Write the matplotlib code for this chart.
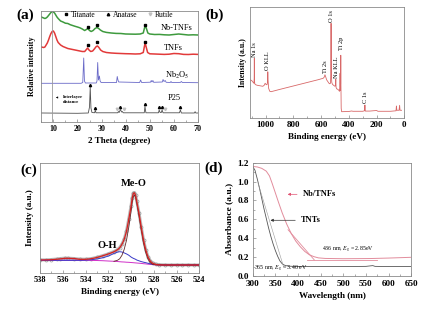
import matplotlib
matplotlib.use('Agg')
import matplotlib.pyplot as plt
from matplotlib.lines import Line2D
from matplotlib.ticker import MultipleLocator, NullLocator

plt.rcParams['font.family'] = ['Liberation Serif', 'DejaVu Serif']
plt.rcParams['mathtext.fontset'] = 'stix'

# ---------------- (a) XRD ----------------
tt_nbtnf = [5, 6, 6.5, 7, 7.5, 8, 8.5, 9, 9.5, 10, 10.5, 11, 11.5, 12, 13, 14, 15, 16, 17, 18, 19, 20,
            21, 22, 23, 23.7, 24.3, 25, 25.7, 26.5, 27.3, 28.1, 28.8, 29.5, 30.5, 32, 34, 36, 38, 40, 42,
            44, 46, 47.3, 47.8, 48.2, 48.6, 49.2, 50, 52, 54, 56, 58, 60, 62, 64, 66, 68, 70]
int_nbtnf = [105, 104, 103.5, 104, 105, 106.5, 108, 109.5, 110.3, 110, 109, 107, 105, 103.5, 101, 100,
             98.8, 98.5, 97.3, 96.5, 95.7, 95, 94.2, 93, 91.5, 92.5, 93.5, 91.5, 90.5, 91.5, 93.5, 94.5,
             93.5, 92, 90.5, 89.6, 89, 88.6, 88.5, 88, 87.9, 87.8, 88, 89, 94, 96, 93.5, 89, 88, 87.5,
             87.6, 87.2, 87, 87.5, 88, 87.5, 87, 87.2, 87]

tt_tnf = [5, 6, 6.5, 7, 7.5, 8, 8.5, 9, 9.5, 10, 10.5, 11, 11.5, 12, 13, 14, 15, 16, 17, 18, 19, 20, 21,
          22, 23, 23.7, 24.2, 24.8, 25.5, 26.3, 27, 27.8, 28.3, 28.9, 29.6, 30.5, 32, 34, 36, 38, 40, 42,
          44, 46, 47.3, 47.8, 48.1, 48.5, 49.1, 50, 52, 54, 56, 58, 60, 62, 64, 66, 68, 70]
int_tnf = [75, 74.5, 75, 77, 79, 82, 85.5, 88.5, 90.5, 91, 89, 85.5, 82, 79.5, 77, 75.5, 74.5, 73.5, 73,
           72.5, 72, 71.5, 71, 70.5, 70.5, 72.5, 74, 72, 70.5, 71, 73, 75.5, 76, 74.5, 72, 70.5, 69.5,
           69, 68.7, 68.5, 68.3, 68.2, 68, 68.2, 69.5, 76, 78.5, 75, 69.5, 68.2, 68, 67.8, 67.6, 67.8,
           68.5, 68.3, 67.6, 67.5, 67.8, 67.6]

tt_nb2o5 = [5, 21.5, 22.2, 22.6, 22.9, 23.3, 27.8, 28.1, 28.4, 28.7, 29.1, 29.4, 29.8, 36.2, 36.5, 36.8,
            37.1, 45.8, 46.2, 46.6, 50.3, 50.6, 50.9, 51.3, 51.6, 55.2, 55.5, 55.9, 56.4, 56.8, 58.5,
            58.8, 59.1, 62.7, 63.1, 63.5, 70]
int_nb2o5 = [38.7, 38.7, 39.5, 64, 41, 39, 39, 41, 59.5, 42, 46, 41, 39.5, 39.5, 45.5, 42, 40, 39.5, 42,
             39.5, 39.8, 41.5, 40, 41.5, 39.7, 40, 42.5, 40.5, 41.5, 39.7, 39.5, 40.5, 39.5, 39.6, 40.5,
             39.5, 39.3]

tt_p25 = [5, 20, 24.5, 25.0, 25.3, 25.6, 26, 27.1, 27.4, 27.7, 36.7, 37.0, 37.3, 37.8, 38.3, 38.6, 39,
          47.7, 48.0, 48.4, 53.6, 53.9, 54.3, 54.8, 55.1, 55.5, 62.3, 62.7, 63.1, 68.5, 68.8, 69.1, 70]
int_p25 = [9, 8.7, 9, 15, 35, 14, 9.5, 9.2, 11.5, 9.2, 9.2, 10.5, 9.5, 12.5, 10, 10.5, 9.2, 9.2, 15.5,
           9.2, 9.2, 12, 9.5, 9.5, 12, 9.2, 9.2, 12, 9, 9, 10.3, 9, 9]

titanate_x = [24.3, 28.3, 48.1]
titanate_y_nb = [94.5, 97, 97]
titanate_y_tnf = [77, 79.5, 79.5]
anatase_x = [25.3, 27.4, 37.8, 48.0, 53.9, 55.1, 62.7]
anatase_y = [36.5, 13.5, 14.5, 18, 14.5, 14.5, 14.5]
rutile_x = [36.2, 39.2, 56.3]
rutile_y = [13, 13, 13]
interlayer_x = 9.6

# ---------------- (b) XPS survey ----------------
be_survey = [1110, 1100, 1090, 1084, 1082, 1081, 1080, 1078, 1070, 1060, 1040, 1020, 1010, 1003, 998,
             990, 986, 984, 982, 978, 970, 960, 900, 800, 700, 620, 585, 578, 572, 568, 560, 548, 540,
             532, 530, 528, 526, 523, 518, 510, 500, 496, 494, 492, 488, 480, 472, 468, 465, 463, 461,
             459, 458, 457, 455, 452, 400, 380, 370, 300, 287, 284, 281, 250, 200, 190, 100, 60, 57, 54,
             38, 34, 31, 20]
cps_survey = [38.3, 37.8, 36, 35, 40, 60, 38, 34.5, 33.5, 33, 32.5, 32, 33, 35, 34, 33.5, 36, 46.5, 38,
              30, 27, 26.6, 28.8, 32.3, 35.8, 38.6, 40, 41, 43.5, 42, 38.5, 36, 34.5, 35, 45, 95, 45, 36,
              34, 33, 32, 33, 39, 31, 29.5, 29, 28, 27, 30, 45, 28, 35, 63, 35, 10, 6.6, 6.8, 7.3, 7, 7,
              7.5, 13.3, 7.2, 7.2, 7.8, 7, 7, 7.5, 12.3, 8, 8, 13, 8, 8]
survey_labels = ['Na 1s', 'O KLL', 'Ti 2s', 'O 1s', 'Na KLL', 'Ti 2p', 'C 1s']
survey_label_x = [1081, 984, 568, 528, 492, 455, 283]
survey_label_y = [61.5, 48, 45, 96.5, 40, 68, 15]

# ---------------- (c) O 1s ----------------
be_o1s = [538, 537.5, 537, 536.5, 536.2, 535.8, 535.5, 535, 534.5, 534, 533.5, 533, 532.5, 532, 531.5,
          531.2, 531, 530.8, 530.6, 530.4, 530.2, 530.0, 529.9, 529.8, 529.7, 529.6, 529.5, 529.3,
          529.1, 528.9, 528.7, 528.5, 528.3, 528.1, 527.8, 527.5, 527, 526.5, 526, 525.5, 525, 524.5, 524]
o1s_raw = [13.5, 13.4, 13.8, 14.3, 14.8, 15.2, 15.1, 14.8, 14.2, 14.1, 14.7, 16, 17.6, 19.5, 21.8, 23.6,
           25.8, 29.2, 34.3, 42.5, 54.5, 67.5, 75.5, 80.3, 80.8, 78.3, 72.4, 60.4, 46.2, 33.2, 23.4,
           16.2, 12.3, 10.2, 9, 8.6, 8.4, 8.3, 8.4, 8.3, 8.4, 8.3, 8.3]
o1s_fit = [13.3, 13.4, 13.6, 14.1, 14.5, 15, 15, 14.8, 14, 14, 14.6, 15.8, 17.5, 19.3, 21.5, 23.5, 25.5,
           29, 34, 42, 54, 67, 75, 80, 80.5, 78, 72, 60, 46, 33, 23, 16, 12, 10, 8.8, 8.4, 8.3, 8.3, 8.3,
           8.3, 8.3, 8.3, 8.3]
o1s_bg = [13, 13, 13, 13, 13, 13, 13, 13, 13, 13, 12.9, 12.8, 12.6, 12.3, 12, 11.8, 11.6, 11.4, 11.3,
          11.1, 11, 10.8, 10.7, 10.6, 10.5, 10.4, 10.3, 10.1, 9.9, 9.6, 9.4, 9.1, 8.9, 8.7, 8.5, 8.4,
          8.3, 8.3, 8.3, 8.3, 8.3, 8.3, 8.3]
o1s_oh = [13, 13, 13, 13, 13, 13, 13, 13, 13.05, 13.2, 13.6, 14.3, 15.5, 17.2, 19.8, 21.2, 21.6, 21.3,
          20.4, 19.4, 18.1, 16.3, 15.6, 15, 14.5, 14, 13.3, 12.5, 11.7, 11.1, 10.6, 10, 9.5, 9.1, 8.7,
          8.5, 8.3, 8.3, 8.3, 8.3, 8.3, 8.3, 8.3]
o1s_meo = [None] * 14 + [12, 13, 14.5, 18, 24, 33, 46, 62, 71, 77, 78, 76, 70, 57, 43, 30, 20.5, 14,
                         10.5, 9, 8.5, 8.4, 8.3, 8.3, 8.3, 8.3, 8.3, 8.3, 8.3]

# ---------------- (d) UV-vis ----------------
wl_tnt = [300, 305, 310, 315, 320, 325, 330, 335, 340, 345, 350, 355, 360, 365, 370, 375, 380, 400,
          450, 500, 550, 565, 570, 600, 650]
abs_tnt = [1.16, 1.12, 1.03, 0.93, 0.82, 0.71, 0.61, 0.51, 0.42, 0.34, 0.27, 0.21, 0.16, 0.13, 0.115,
           0.108, 0.104, 0.10, 0.10, 0.10, 0.102, 0.11, 0.102, 0.10, 0.10]
wl_nb = [300, 310, 320, 330, 337, 343, 350, 357, 365, 375, 385, 395, 405, 415, 425, 435, 445, 460, 500,
         560, 600, 650]
abs_nb = [1.16, 1.155, 1.14, 1.11, 1.06, 0.98, 0.88, 0.78, 0.67, 0.55, 0.45, 0.37, 0.31, 0.26, 0.225,
          0.205, 0.192, 0.186, 0.183, 0.185, 0.19, 0.198]
tnt_tangent_x = [312, 368]
tnt_tangent_y = [0.98, 0.10]
nb_tangent_x = [378, 436]
nb_tangent_y = [0.49, 0.17]
nb_base_x = [420, 575]
nb_base_y = [0.17, 0.17]

green = '#3e9a3e'
red = '#e23a3a'
blue = '#6a6ac8'
pink = '#e28c9c'
spine_c = '#8a8a8a'

fig = plt.figure(figsize=(4.27, 3.09), dpi=100)


def style(ax, fs):
    for s in ax.spines.values():
        s.set_color(spine_c)
        s.set_linewidth(0.6)
    ax.tick_params(which='both', direction='in', color=spine_c, labelsize=fs, pad=2)
    ax.tick_params(which='major', length=2.5, width=0.5)
    ax.tick_params(which='minor', length=1.5, width=0.5)
    for t in ax.get_xticklabels() + ax.get_yticklabels():
        t.set_fontweight('bold')


# (a)
ax = fig.add_axes([0.0967, 0.6052, 0.367, 0.3592])
ax.plot(tt_nbtnf, int_nbtnf, color=green, lw=1.1)
ax.plot(tt_tnf, int_tnf, color=red, lw=1.1)
ax.plot(tt_nb2o5, int_nb2o5, color=blue, lw=0.6)
ax.plot(tt_p25, int_p25, color='#505050', lw=0.6)
ax.axvline(interlayer_x, color='#9a9a9a', lw=0.6)
ax.plot(titanate_x, titanate_y_nb, 's', color='k', ms=1.6, ls='none')
ax.plot(titanate_x, titanate_y_tnf, 's', color='k', ms=1.6, ls='none')
ax.plot(anatase_x, anatase_y, '^', color='k', ms=1.6, ls='none')
ax.plot(rutile_x, rutile_y, 'v', color='#c0c0c0', ms=1.8, ls='none')
ax.set_xlim(5, 70)
ax.set_ylim(0, 111)
ax.xaxis.set_major_locator(MultipleLocator(10))
ax.xaxis.set_minor_locator(MultipleLocator(5))
ax.yaxis.set_major_locator(NullLocator())
style(ax, 5.8)
ax.text(54.6, 93.5, 'Nb-TNFs', fontsize=6, va='center')
ax.text(55.8, 74.3, 'TNFs', fontsize=6, va='center')
ax.text(56.2, 47, r'Nb$_2$O$_5$', fontsize=6, va='center')
ax.text(57.4, 23.7, 'P25', fontsize=6, va='center')
ax.annotate('', xy=(9.9, 24.5), xytext=(12.8, 24.5),
            arrowprops=dict(arrowstyle='-|>', color='k', lw=0.4, mutation_scale=2.5))
ax.text(14.0, 22.3, 'Interlayer\ndistance', fontsize=3.3, fontweight='bold', va='center',
        linespacing=1.5)
handles = [Line2D([], [], marker='s', color='k', ls='none', ms=1.8),
           Line2D([], [], marker='^', color='k', ls='none', ms=1.8),
           Line2D([], [], marker='v', color='#c0c0c0', ls='none', ms=2)]
ax.legend(handles, ['Titanate', 'Anatase', 'Rutile'], ncol=3, loc='center',
          bbox_to_anchor=(0.49, 0.965), frameon=False, fontsize=5.5, handlelength=0.8,
          handletextpad=0.3, columnspacing=1.2, borderpad=0, borderaxespad=0)
ax.set_xlabel('2 Theta (degree)', fontsize=6.5, fontweight='bold', labelpad=3)
ax.set_ylabel('Relative intensity', fontsize=5.8, fontweight='bold', labelpad=4)
fig.text(25 / 427, 1 - 15 / 309, '(a)', fontsize=11, fontweight='bold', ha='center', va='center')

# (b)
ax = fig.add_axes([0.5862, 0.6172, 0.3607, 0.3612])
ax.plot(be_survey, cps_survey, color='#d86868', lw=0.6)
ax.set_xlim(1110, 0)
ax.set_ylim(0, 111.6)
ax.xaxis.set_major_locator(MultipleLocator(200))
ax.xaxis.set_minor_locator(MultipleLocator(100))
ax.yaxis.set_major_locator(NullLocator())
style(ax, 6.5)
for lab, lx, ly in zip(survey_labels, survey_label_x, survey_label_y):
    ax.text(lx, ly, lab, rotation=90, fontsize=4.6, ha='center', va='bottom')
ax.set_xlabel('Binding energy (eV)', fontsize=6.6, fontweight='bold', labelpad=3)
ax.set_ylabel('Intensity (a.u.)', fontsize=5.6, fontweight='bold', labelpad=2.5)
fig.text(215 / 427, 1 - 15 / 309, '(b)', fontsize=11, fontweight='bold', ha='center', va='center')

# (c)
ax = fig.add_axes([0.0937, 0.1155, 0.3731, 0.3579])
ax.plot(be_o1s, o1s_raw, color='#a8a8a8', lw=2.2, alpha=0.8)
ax.plot(be_o1s, o1s_raw, 'o', mfc='none', mec='#9a9a9a', ms=2.2, mew=0.5)
ax.plot(be_o1s, o1s_bg, color='#d030c8', lw=0.7)
ax.plot(be_o1s, o1s_oh, color='#3838c8', lw=0.7)
ax.plot(be_o1s, o1s_meo, color='#602828', lw=0.6)
ax.plot(be_o1s, o1s_fit, color='#d82020', lw=0.9)
ax.set_xlim(538, 524)
ax.set_ylim(0, 110.6)
ax.xaxis.set_major_locator(MultipleLocator(2))
ax.xaxis.set_minor_locator(MultipleLocator(1))
ax.yaxis.set_major_locator(NullLocator())
style(ax, 6)
ax.text(529.8, 90, 'Me-O', fontsize=7.5, fontweight='bold', ha='center', va='center')
ax.text(532.1, 28.3, 'O-H', fontsize=7.5, fontweight='bold', ha='center', va='center')
ax.set_xlabel('Binding energy (eV)', fontsize=6.6, fontweight='bold', labelpad=3)
ax.set_ylabel('Intensity (a.u.)', fontsize=6.6, fontweight='bold', labelpad=4)
fig.text(29 / 427, 1 - 170 / 309, '(c)', fontsize=11, fontweight='bold', ha='center', va='center')

# (d)
ax = fig.add_axes([0.5918, 0.1068, 0.3714, 0.3667])
ax.plot(wl_tnt, abs_tnt, color='#555555', lw=0.6)
ax.plot(wl_nb, abs_nb, color=pink, lw=0.7)
ax.plot(tnt_tangent_x, tnt_tangent_y, color='#9a9a9a', lw=0.4)
ax.plot(nb_tangent_x, nb_tangent_y, color=pink, lw=0.6)
ax.plot(nb_base_x, nb_base_y, color=pink, lw=0.6)
ax.set_xlim(300, 650)
ax.set_ylim(0, 1.2)
ax.xaxis.set_major_locator(MultipleLocator(50))
ax.xaxis.set_minor_locator(MultipleLocator(25))
ax.yaxis.set_major_locator(MultipleLocator(0.2))
ax.yaxis.set_minor_locator(MultipleLocator(0.1))
ax.yaxis.set_major_formatter(matplotlib.ticker.FormatStrFormatter('%.1f'))
style(ax, 6.6)
ax.tick_params(axis='x', pad=3)
ax.tick_params(axis='y', pad=2.5)
ax.annotate('', xy=(371, 0.865), xytext=(404, 0.865),
            arrowprops=dict(arrowstyle='-|>', color='#e05070', lw=0.5, mutation_scale=4))
ax.text(411, 0.865, 'Nb/TNFs', fontsize=6, fontweight='bold', va='center')
ax.annotate('', xy=(333, 0.59), xytext=(400, 0.59),
            arrowprops=dict(arrowstyle='-|>', color='#333333', lw=0.5, mutation_scale=4))
ax.text(407, 0.59, 'TNTs', fontsize=6, fontweight='bold', va='center')
ax.text(452, 0.272, r'436 nm, $E_g$ = 2.85eV', fontsize=4.2, va='center')
ax.text(302, 0.072, r'365 nm, $E_g$ = 3.40 eV', fontsize=4.2, va='center')
ax.set_xlabel('Wavelength (nm)', fontsize=6.6, fontweight='bold', labelpad=2.5)
ax.set_ylabel('Absorbance (a.u.)', fontsize=6.8, fontweight='bold', labelpad=3)
fig.text(214 / 427, 1 - 168 / 309, '(d)', fontsize=11, fontweight='bold', ha='center', va='center')

fig.savefig('out.png', dpi=100)
